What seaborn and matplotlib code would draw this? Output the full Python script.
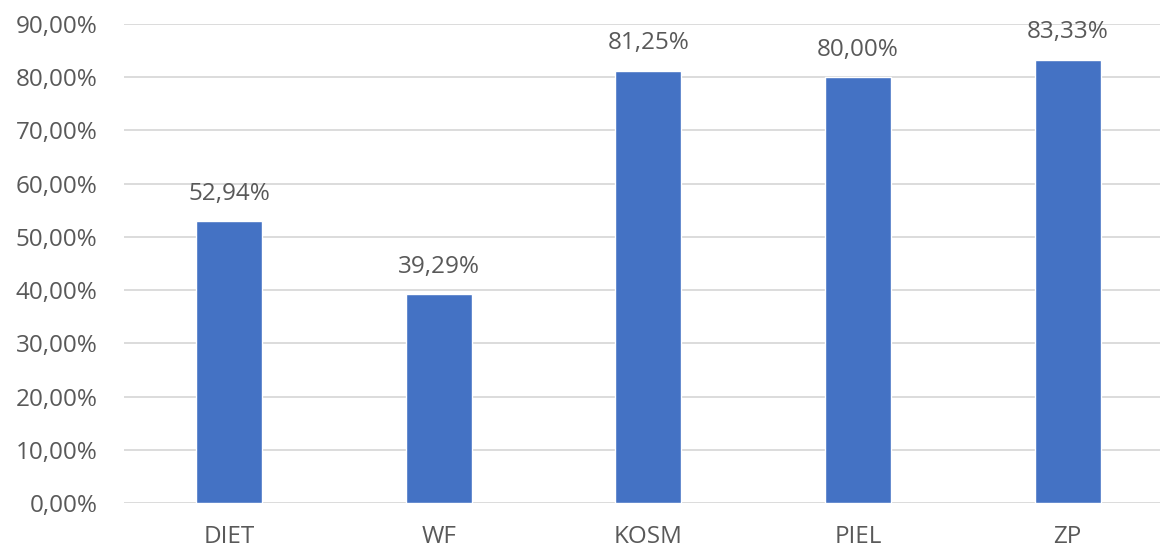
import numpy as np
import pandas as pd
import matplotlib
matplotlib.use('Agg')
import matplotlib.pyplot as plt
import seaborn as sns
from matplotlib.ticker import FuncFormatter

categories = ['DIET', 'WF', 'KOSM', 'PIEL', 'ZP']
values = [0.5294, 0.3929, 0.8125, 0.8000, 0.8333]
yticks = [0.0, 0.1, 0.2, 0.3, 0.4, 0.5, 0.6, 0.7, 0.8, 0.9]

df = pd.DataFrame({'cat': categories, 'val': values})

sns.set_style('white')
plt.rcParams['font.family'] = ['Open Sans', 'DejaVu Sans']

fig = plt.figure(figsize=(11.6, 5.52), dpi=100)
ax = fig.add_axes([0.107, 0.0888, 0.893, 0.8677])

sns.barplot(data=df, x='cat', y='val', color='#4472C4', width=0.314,
            saturation=1, ax=ax, zorder=3)

def pct(v, pos=None):
    return f'{v*100:.2f}%'.replace('.', ',')

ax.set_ylim(0, 0.9)
ax.set_xlim(-0.5, 4.44)
ax.set_yticks(yticks)
ax.yaxis.set_major_formatter(FuncFormatter(pct))
ax.grid(axis='y', color='#D9D9D9', linewidth=1.3, zorder=0)
ax.set_axisbelow(True)
for s in ax.spines.values():
    s.set_visible(False)
ax.set_xlabel('')
ax.set_ylabel('')
ax.tick_params(axis='both', length=0, labelsize=17.5, labelcolor='#595959')
ax.tick_params(axis='y', pad=19)
ax.tick_params(axis='x', pad=16)

for i, v in enumerate(values):
    ax.annotate(pct(v), (i, v), xytext=(0, 11), textcoords='offset points',
                ha='center', va='bottom', fontsize=17.5, color='#595959')

fig.savefig('out.png', dpi=100)
